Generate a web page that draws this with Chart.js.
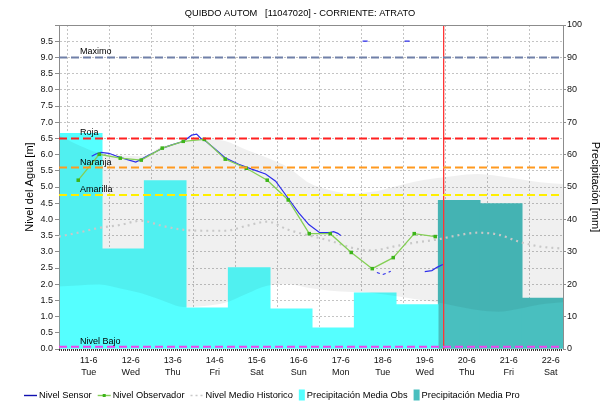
<!DOCTYPE html>
<html>
<head>
<meta charset="utf-8">
<title>QUIBDO AUTOM - Nivel</title>
<script src="https://cdn.jsdelivr.net/npm/chart.js@4.4.1/dist/chart.umd.min.js"></script>
<style>
  html, body { margin: 0; padding: 0; background: #fff; }
  #wrap { width: 602px; height: 404px; }
</style>
</head>
<body>
<div id="wrap"><canvas id="nivelChart"></canvas></div>
<script>
// time axis is in days of June (11 = 11-6 00:00)
const chartTitle = 'QUIBDO AUTOM   [11047020] - CORRIENTE: ATRATO';
const xMin = 10 + 7 / 24;
const xMax = 22 + 7 / 24;
const nowTime = 19.45;

const dayTicks = [11, 12, 13, 14, 15, 16, 17, 18, 19, 20, 21, 22];
const dayLabels = ['11-6', '12-6', '13-6', '14-6', '15-6', '16-6', '17-6', '18-6', '19-6', '20-6', '21-6', '22-6'];
const dayNames = ['Tue', 'Wed', 'Thu', 'Fri', 'Sat', 'Sun', 'Mon', 'Tue', 'Wed', 'Thu', 'Fri', 'Sat'];
const levelTicks = [0, 0.5, 1, 1.5, 2, 2.5, 3, 3.5, 4, 4.5, 5, 5.5, 6, 6.5, 7, 7.5, 8, 8.5, 9, 9.5, 10];
const precipTicks = [0, 10, 20, 30, 40, 50, 60, 70, 80, 90, 100];

const sensorTime = [11.07, 11.17, 11.29, 11.48, 11.67, 11.88, 12.12, 12.26, 12.38, 12.57, 12.76, 12.98, 13.26, 13.45, 13.57, 13.67, 13.79,
  14.02, 14.26, 14.57, 14.88, 15.21, 15.45, 15.76, 16.0, 16.24, 16.5, 16.74, 16.83, 16.93, 17.0, 17.3, 17.52, 17.64, 17.7,
  17.86, 17.93, 17.96, 18.0, 18.07, 18.1, 18.14, 18.19, 18.3, 18.52, 18.64, 18.8, 19.0, 19.17, 19.29, 19.43];
const sensorLevel = [5.95, 6.02, 6.07, 6.04, 5.95, 5.86, 5.77, 5.86, 5.95, 6.07, 6.2, 6.3, 6.41, 6.6, 6.63, 6.5, 6.41,
  6.16, 5.89, 5.7, 5.55, 5.4, 5.18, 4.63, 4.2, 3.84, 3.59, 3.59, 3.62, 3.57, 3.5, null, 9.5, 9.5, null,
  2.36, 2.33, null, 2.3, 2.33, null, 2.37, 2.4, null, 9.5, 9.5, null, 2.39, 2.42, 2.52, 2.61];

const obsTime = [10.75, 11.25, 11.75, 12.25, 12.75, 13.25, 13.75, 14.25, 14.75, 15.25, 15.75, 16.25, 16.75, 17.25, 17.75, 18.25, 18.75, 19.25];
const obsLevel = [5.21, 6.01, 5.89, 5.83, 6.2, 6.41, 6.47, 5.86, 5.58, 5.21, 4.6, 3.56, 3.56, 2.98, 2.48, 2.82, 3.56, 3.47];

const histTime = [10.29, 10.75, 11.25, 11.75, 12.25, 12.75, 13.25, 13.75, 14.25, 14.75, 15.25, 15.75, 16.25,
  16.75, 17.25, 17.75, 18.25, 18.75, 19.25, 19.75, 20.25, 20.75, 21.25, 21.75, 22.29];
const histMean = [3.47, 3.59, 3.74, 3.83, 3.96, 3.8, 3.68, 3.65, 3.65, 3.8, 3.93, 3.68, 3.5,
  3.34, 3.13, 3.04, 3.16, 3.28, 3.37, 3.5, 3.59, 3.53, 3.31, 3.16, 3.1];
const histMax = [6.6, 6.3, 6.05, 5.98, 5.95, 6.25, 6.4, 6.48, 6.42, 6.15, 5.9, 5.6, 5.12,
  4.9, 4.8, 4.85, 5.0, 5.16, 5.27, 5.35, 5.4, 5.34, 5.25, 5.15, 5.09];
const histMin = [1.93, 1.96, 1.99, 1.87, 1.72, 1.5, 1.3, 1.33, 1.43, 1.7, 1.95, 2.0, 1.88,
  1.8, 1.76, 1.73, 1.64, 1.54, 1.45, 1.32, 1.2, 1.15, 1.24, 1.37, 1.44];

const precipObsTime = [10.82, 11.82, 12.82, 13.82, 14.82, 15.82, 16.82, 17.82, 18.82];
const precipObs = [66.6, 30.9, 52.0, 12.7, 25.1, 12.4, 6.5, 17.3, 13.7];
const precipProTime = [19.82, 20.82, 21.82];
const precipPro = [45.9, 44.9, 15.7];

const thresholdNames = ['Maximo', 'Roja', 'Naranja', 'Amarilla', 'Nivel Bajo'];
const thresholdLevels = [9.0, 6.5, 5.6, 4.75, 0.07];
const thresholdColors = ['#7080a8', '#ff2020', '#ff9a20', '#ffee00', '#ee44ee'];

const FONT = "'Liberation Sans', Arial, sans-serif";
Chart.defaults.font.family = FONT;
Chart.defaults.font.size = 9;
Chart.defaults.color = '#111';

const pts = (xs, ys) => xs.map((x, i) => ({ x: x, y: ys[i] }));

const datasets = [
  { label: 'Nivel Sensor', data: pts(sensorTime, sensorLevel), borderColor: 'rgb(45,45,235)', borderWidth: 1.2,
    pointRadius: 0, spanGaps: false, order: 1, yAxisID: 'y' },
  { label: 'Nivel Observador', data: pts(obsTime, obsLevel), borderColor: '#84cf55', borderWidth: 1.3,
    pointRadius: 2.5, pointStyle: 'rect', pointBackgroundColor: '#3db51a', pointBorderWidth: 0, order: 0.5, yAxisID: 'y' },
  { label: 'Nivel Medio Historico', data: pts(histTime, histMean), borderColor: '#c8c8c8', borderWidth: 2.2,
    borderDash: [2, 4], cubicInterpolationMode: 'monotone', pointRadius: 0, order: 2, yAxisID: 'y' },
  { label: 'min', data: pts(histTime, histMin), borderWidth: 0, pointRadius: 0, fill: false,
    cubicInterpolationMode: 'monotone', order: 3, yAxisID: 'y' },
  { label: 'max', data: pts(histTime, histMax), borderWidth: 0, pointRadius: 0, fill: '-1',
    backgroundColor: 'rgba(0,0,0,0.06)', cubicInterpolationMode: 'monotone', order: 3, yAxisID: 'y' },
  { type: 'bar', label: 'Precipitación Media Obs', data: pts(precipObsTime, precipObs), backgroundColor: '#55ffff',
    borderWidth: 0, grouped: false, barPercentage: 1, categoryPercentage: 1, order: 5, yAxisID: 'y1' },
  { type: 'bar', label: 'Precipitación Media Pro', data: pts(precipProTime, precipPro), backgroundColor: '#49bfbf',
    borderWidth: 0, grouped: false, barPercentage: 1, categoryPercentage: 1, order: 5, yAxisID: 'y1' }
];
thresholdLevels.forEach((lvl, i) => {
  datasets.push({ label: thresholdNames[i], data: [{ x: xMin, y: lvl }, { x: xMax, y: lvl }],
    borderColor: thresholdColors[i], borderWidth: 2, borderDash: [8, 4], pointRadius: 0, order: 0, yAxisID: 'y' });
});
datasets.push({ label: 'now', data: [{ x: nowTime, y: 0 }, { x: nowTime, y: 10 }],
  borderColor: '#ff3535', borderWidth: 1.3, pointRadius: 0, order: 0, yAxisID: 'y' });

// legend entries: dataset index + kind of symbol
const legendSets = [0, 1, 2, 5, 6];
const legendKinds = ['line', 'marker', 'dots', 'box', 'box'];

const titlePlugin = {
  id: 'titleText',
  afterDraw(chart) {
    const ctx = chart.ctx;
    ctx.save();
    ctx.font = '9.3px ' + FONT;
    ctx.fillStyle = '#000';
    ctx.textAlign = 'center';
    ctx.textBaseline = 'middle';
    ctx.fillText(chartTitle, 300, 13);
    ctx.restore();
  }
};

const legendPlugin = {
  id: 'bottomLegend',
  afterDraw(chart) {
    const ctx = chart.ctx;
    const y = 395;
    let x = 24;
    ctx.save();
    ctx.font = '9.3px ' + FONT;
    ctx.textBaseline = 'middle';
    ctx.textAlign = 'left';
    legendSets.forEach((d, i) => {
      const ds = chart.data.datasets[d];
      const kind = legendKinds[i];
      let w;
      if (kind === 'box') {
        ctx.fillStyle = ds.backgroundColor;
        ctx.fillRect(x, y - 5.5, 6, 11);
        w = 8;
      } else {
        ctx.strokeStyle = kind === 'line' ? '#1010b0' : ds.borderColor;
        ctx.lineWidth = kind === 'dots' ? 1.5 : 1.4;
        ctx.setLineDash(kind === 'dots' ? [2, 3] : []);
        ctx.beginPath();
        ctx.moveTo(x, y + 0.5);
        ctx.lineTo(x + 13, y + 0.5);
        ctx.stroke();
        ctx.setLineDash([]);
        if (kind === 'marker') {
          ctx.fillStyle = ds.pointBackgroundColor;
          ctx.fillRect(x + 5, y - 1, 3, 3);
        }
        w = 15;
      }
      ctx.fillStyle = '#000';
      ctx.fillText(ds.label, x + w, y);
      x += w + ctx.measureText(ds.label).width + 6;
    });
    ctx.restore();
  }
};

const framePlugin = {
  id: 'frame',
  afterDatasetsDraw(chart) {
    const { ctx, chartArea: a, scales } = chart;
    ctx.save();
    ctx.strokeStyle = '#8c8c8c';
    ctx.lineWidth = 1;
    ctx.beginPath();
    ctx.moveTo(a.left, a.top + 0.5);
    ctx.lineTo(a.right, a.top + 0.5);
    ctx.stroke();
    ctx.strokeStyle = '#333';
    ctx.lineWidth = 2;
    ctx.setLineDash([1, 1]);
    ctx.beginPath();
    ctx.moveTo(a.left, a.bottom + 1);
    ctx.lineTo(a.right, a.bottom + 1);
    ctx.stroke();
    ctx.setLineDash([]);
    // threshold names
    ctx.font = '9px ' + FONT;
    ctx.fillStyle = '#000';
    ctx.textAlign = 'left';
    ctx.textBaseline = 'alphabetic';
    thresholdLevels.forEach((lvl, i) => {
      ctx.fillText(thresholdNames[i], a.left + 21, scales.y.getPixelForValue(lvl) - 3);
    });
    ctx.restore();
  }
};

new Chart(document.getElementById('nivelChart'), {
  type: 'line',
  data: { datasets: datasets },
  options: {
    responsive: true,
    maintainAspectRatio: false,
    animation: false,
    layout: { padding: { left: 17, right: 0, top: 25, bottom: 0 } },
    plugins: {
      title: { display: false },
      tooltip: { enabled: false },
      legend: { display: false }
    },
    scales: {
      x: {
        type: 'linear',
        min: xMin,
        max: xMax,
        offset: false,
        afterBuildTicks: s => { s.ticks = dayTicks.map(v => ({ value: v })); },
        afterFit: s => { s.height = 55; },
        ticks: {
          autoSkip: false,
          maxRotation: 0,
          padding: 6,
          color: '#111',
          font: { size: 9, lineHeight: 1.33 },
          callback: v => {
            const i = dayTicks.indexOf(v);
            return [dayLabels[i], dayNames[i]];
          }
        },
        grid: { color: '#c4c4c4', drawTicks: false },
        border: { display: false, dash: [2, 2] }
      },
      y: {
        position: 'left',
        min: 0,
        max: 10,
        afterBuildTicks: s => { s.ticks = levelTicks.map(v => ({ value: v })); },
        afterFit: s => { s.width = 42; },
        ticks: {
          padding: 2,
          color: '#111',
          callback: v => (v === 10 ? '' : v.toFixed(1))
        },
        grid: { color: '#c4c4c4', tickColor: '#8c8c8c', tickLength: 4, tickBorderDash: [] },
        border: { display: true, color: '#8c8c8c', dash: [2, 2] },
        title: { display: true, text: 'Nivel del Agua [m]', color: '#000', font: { size: 11 }, padding: { top: 6, bottom: 0 } }
      },
      y1: {
        position: 'right',
        min: 0,
        max: 100,
        afterBuildTicks: s => { s.ticks = precipTicks.map(v => ({ value: v })); },
        afterFit: s => { s.width = 39; },
        ticks: { padding: 1, color: '#111' },
        grid: { drawOnChartArea: false, tickColor: '#8c8c8c', tickLength: 3 },
        border: { display: true, color: '#8c8c8c' },
        title: { display: true, text: 'Precipitación [mm]', color: '#000', font: { size: 11 }, padding: { top: 0, bottom: 0 } }
      }
    }
  },
  plugins: [framePlugin, titlePlugin, legendPlugin]
});
</script>
</body>
</html>
